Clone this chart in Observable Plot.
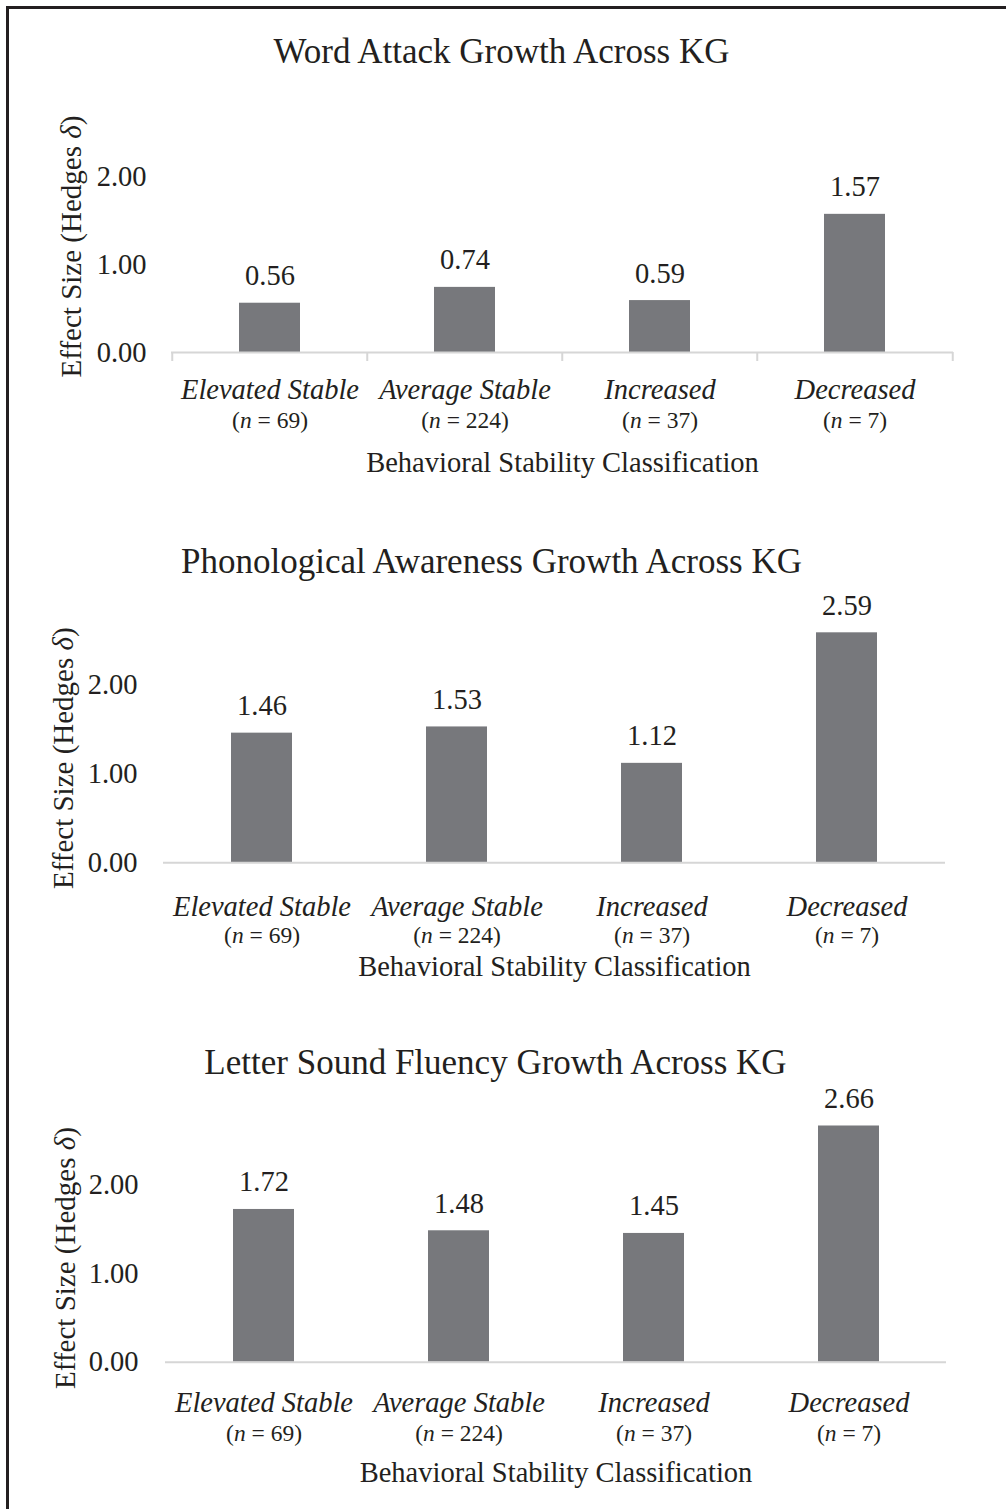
<!DOCTYPE html>
<html>
<head>
<meta charset="utf-8">
<script src="https://cdn.jsdelivr.net/npm/d3@7"></script>
<script src="https://cdn.jsdelivr.net/npm/@observablehq/plot@0.6"></script>
<style>
html, body { margin: 0; padding: 0; background: #fff; }
#fig { position: relative; width: 1006px; height: 1509px; overflow: hidden; background: #fff; }
.frame-top { position: absolute; left: 6px; top: 6px; width: 1000px; height: 2.5px; background: #231f20; }
.frame-left { position: absolute; left: 6px; top: 6px; width: 2.5px; height: 1503px; background: #231f20; }
.panel { position: absolute; left: 0; }
</style>
</head>
<body>
<div id="fig"><div class="frame-top"></div><div class="frame-left"></div></div>
<script>
// ---- data ----
const categories = ["Elevated Stable", "Average Stable", "Increased", "Decreased"];
const groupN = [69, 224, 37, 7];
const wordAttack = [0.56, 0.74, 0.59, 1.57];
const phonologicalAwareness = [1.46, 1.53, 1.12, 2.59];
const letterSoundFluency = [1.72, 1.48, 1.45, 2.66];
const panelTitles = [
  "Word Attack Growth Across KG",
  "Phonological Awareness Growth Across KG",
  "Letter Sound Fluency Growth Across KG"
];
const panelValues = [wordAttack, phonologicalAwareness, letterSoundFluency];
const yTicks = [0, 1, 2];
const xTitle = "Behavioral Stability Classification";
const yTitle = "Effect Size (Hedges δ)";

// ---- layout (pixels) ----
const layouts = [
  {top: 0,    height: 500, zero: 352,    left: 171, right: 953, unit: 88,   tickPad: 25, catDy: 46, nDy: 75,   xTitleDy: 119, yTitleX: 80, yTitleDy: -106,   titleX: 501, titleDy: -290,   boundaryTicks: true},
  {top: 500,  height: 500, zero: 862.3,  left: 163, right: 945, unit: 88.8, tickPad: 26, catDy: 53, nDy: 79.7, xTitleDy: 113, yTitleX: 72, yTitleDy: -104.6, titleX: 491, titleDy: -290.3, boundaryTicks: false},
  {top: 1000, height: 509, zero: 1361.7, left: 165, right: 946, unit: 88.8, tickPad: 27, catDy: 50, nDy: 78.3, xTitleDy: 120, yTitleX: 74, yTitleDy: -104.2, titleX: 495, titleDy: -288.7, boundaryTicks: false}
];
const W = 1006;
const YMAX = 2.8;
const FONT = "'Liberation Serif', 'Times New Roman', Times, serif";
const FS = 28.5, FS_N = 23.5, FS_TITLE = 35, FS_Y = 29;
const INK = "#231f20", BAR = "#77787c", AXIS = "#d6d6d6";

const fig = document.getElementById("fig");

panelValues.forEach((values, k) => {
  const L = layouts[k];
  const data = categories.map((c, i) => ({category: c, n: groupN[i], value: values[i]}));
  const zeroLocal = L.zero - L.top;
  const marginBottom = L.height - zeroLocal;
  const marginTop = zeroLocal - YMAX * L.unit;
  const step = (L.right - L.left) / categories.length;

  const marks = [
    Plot.barY(data, {x: "category", y: "value", fill: BAR}),
    Plot.ruleY([0], {stroke: AXIS, strokeWidth: 2}),
    Plot.text(data, {x: "category", y: "value", text: d => d.value.toFixed(2),
      dy: -18, lineAnchor: "bottom", fontSize: FS, fill: INK}),
    Plot.axisY({ticks: yTicks, tickFormat: d => d.toFixed(2), tickSize: 0, tickPadding: L.tickPad,
      fontSize: FS, label: null, fill: INK}),
    Plot.axisX({tickSize: 0, tickPadding: L.catDy - 0.71 * FS, fontSize: FS, fontStyle: "italic",
      label: null, fill: INK}),
    Plot.axisX({tickSize: 0, tickPadding: L.nDy - 0.71 * FS_N, fontSize: FS_N, label: null, fill: INK,
      tickFormat: c => `(n = ${groupN[categories.indexOf(c)]})`}),
    Plot.text([xTitle], {frameAnchor: "bottom", dy: L.xTitleDy, lineAnchor: "bottom", fontSize: FS, fill: INK}),
    Plot.text([yTitle], {frameAnchor: "bottom-left", dx: L.yTitleX - L.left, dy: L.yTitleDy, rotate: -90,
      textAnchor: "middle", lineAnchor: "bottom", fontSize: FS_Y, fill: INK}),
    Plot.text([panelTitles[k]], {frameAnchor: "bottom-left", dx: L.titleX - L.left, dy: L.titleDy,
      textAnchor: "middle", lineAnchor: "bottom", fontSize: FS_TITLE, fill: INK})
  ];
  if (L.boundaryTicks) {
    marks.push(Plot.ruleX(categories, {x: d => d, y1: 0, y2: 0, insetBottom: -9, dx: -step / 2, stroke: AXIS, strokeWidth: 2}));
    marks.push(Plot.ruleX(categories.slice(-1), {x: d => d, y1: 0, y2: 0, insetBottom: -9, dx: step / 2, stroke: AXIS, strokeWidth: 2}));
  }

  const svg = Plot.plot({
    width: W,
    height: L.height,
    marginLeft: L.left,
    marginRight: W - L.right,
    marginTop,
    marginBottom,
    style: {fontFamily: FONT, color: INK, background: "transparent", overflow: "visible"},
    x: {domain: categories, paddingInner: 1 - 61 / step, paddingOuter: (1 - 61 / step) / 2},
    y: {domain: [0, YMAX]},
    marks
  });

  // italic "n" and italic delta
  svg.querySelectorAll("text").forEach(t => {
    const s = t.textContent;
    let m = s.match(/^\(n = (.*)\)$/);
    if (m) {
      t.textContent = "";
      const a = document.createElementNS("http://www.w3.org/2000/svg", "tspan"); a.textContent = "(";
      const b = document.createElementNS("http://www.w3.org/2000/svg", "tspan"); b.textContent = "n"; b.setAttribute("font-style", "italic");
      const c = document.createElementNS("http://www.w3.org/2000/svg", "tspan"); c.textContent = ` = ${m[1]})`;
      t.append(a, b, c);
      return;
    }
    if (s.includes("δ")) {
      const [pre, post] = s.split("δ");
      t.textContent = "";
      const a = document.createElementNS("http://www.w3.org/2000/svg", "tspan"); a.textContent = pre;
      const b = document.createElementNS("http://www.w3.org/2000/svg", "tspan"); b.textContent = "δ"; b.setAttribute("font-style", "italic");
      const c = document.createElementNS("http://www.w3.org/2000/svg", "tspan"); c.textContent = post;
      t.append(a, b, c);
    }
  });

  const wrap = document.createElement("div");
  wrap.className = "panel";
  wrap.style.top = L.top + "px";
  wrap.appendChild(svg);
  fig.appendChild(wrap);
});
</script>
</body>
</html>
